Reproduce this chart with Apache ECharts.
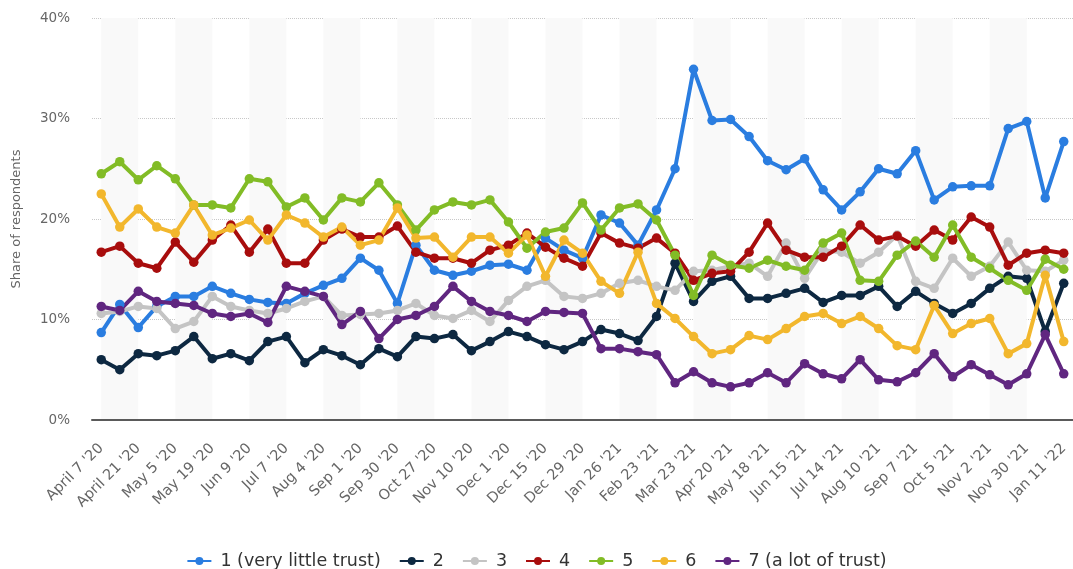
<!DOCTYPE html>
<html>
<head>
    <meta charset="utf-8">
    <title>Trust survey</title>
    <script src="https://cdn.jsdelivr.net/npm/echarts@6/dist/echarts.min.js"></script>
    <style>
        html, body {
            margin: 0;
            padding: 0;
            background: #fff;
        }
        #chart {
            width: 1073px;
            height: 569px;
        }
    </style>
</head>
<body>
<div id="chart"></div>
<script>
    var dates = ["April 7 '20", "April 14 '20", "April 21 '20", "April 28 '20", "May 5 '20", "May 12 '20",
        "May 19 '20", "May 26 '20", "Jun 9 '20", "Jun 23 '20", "Jul 7 '20", "Jul 21 '20", "Aug 4 '20",
        "Aug 18 '20", "Sep 1 '20", "Sep 15 '20", "Sep 30 '20", "Oct 13 '20", "Oct 27 '20", "Nov 3 '20",
        "Nov 10 '20", "Nov 17 '20", "Dec 1 '20", "Dec 8 '20", "Dec 15 '20", "Dec 22 '20", "Dec 29 '20",
        "Jan 12 '21", "Jan 26 '21", "Feb 9 '21", "Feb 23 '21", "Mar 9 '21", "Mar 23 '21", "Apr 6 '21",
        "Apr 20 '21", "May 4 '21", "May 18 '21", "Jun 1 '21", "Jun 15 '21", "Jun 29 '21", "Jul 14 '21",
        "Jul 27 '21", "Aug 10 '21", "Aug 24 '21", "Sep 7 '21", "Sep 21 '21", "Oct 5 '21", "Oct 19 '21",
        "Nov 2 '21", "Nov 16 '21", "Nov 30 '21", "Dec 14 '21", "Jan 11 '22"];

    var names = ['1 (very little trust)', '2', '3', '4', '5', '6', '7 (a lot of trust)'];
    var colors = ['#2a7de0', '#0d2841', '#c4c4c4', '#a80d0d', '#82bc26', '#f2b72d', '#602680'];

    var trust1 = [8.7, 11.5, 9.2, 11.3, 12.3, 12.3, 13.3, 12.6, 12.0, 11.7, 11.6, 12.6, 13.4, 14.1, 16.1, 14.9,
        11.6, 17.4, 14.9, 14.4, 14.8, 15.4, 15.5, 14.9, 18.1, 16.9, 16.1, 20.4, 19.6, 17.4, 20.9, 25.0, 34.9,
        29.8, 29.9, 28.2, 25.8, 24.9, 26.0, 22.9, 20.9, 22.7, 25.0, 24.5, 26.8, 21.9, 23.2, 23.3, 23.3, 29.0,
        29.7, 22.1, 27.7];
    var trust2 = [6.0, 5.0, 6.6, 6.4, 6.9, 8.3, 6.1, 6.6, 5.9, 7.8, 8.3, 5.7, 7.0, 6.4, 5.5, 7.1, 6.3, 8.3, 8.1,
        8.5, 6.9, 7.8, 8.8, 8.3, 7.5, 7.0, 7.8, 9.0, 8.6, 7.9, 10.3, 15.6, 11.8, 13.8, 14.3, 12.1, 12.1, 12.6,
        13.1, 11.7, 12.4, 12.4, 13.3, 11.3, 12.8, 11.6, 10.6, 11.6, 13.1, 14.3, 14.1, 8.8, 13.6];
    var trust3 = [10.6, 10.8, 11.3, 11.1, 9.1, 9.8, 12.3, 11.3, 10.9, 10.6, 11.1, 11.8, 12.3, 10.4, 10.5, 10.6,
        10.9, 11.6, 10.4, 10.1, 10.9, 9.8, 11.9, 13.3, 13.9, 12.3, 12.1, 12.6, 13.6, 13.9, 13.3, 12.9, 14.8,
        14.9, 15.3, 15.6, 14.3, 17.6, 14.1, 16.9, 16.7, 15.6, 16.7, 18.4, 13.8, 13.1, 16.1, 14.3, 15.3, 17.7,
        14.9, 14.8, 15.9];
    var trust4 = [16.7, 17.3, 15.6, 15.1, 17.7, 15.7, 17.9, 19.4, 16.7, 19.0, 15.6, 15.6, 17.9, 19.0, 18.2, 18.2,
        19.3, 16.7, 16.1, 16.1, 15.6, 16.9, 17.4, 18.6, 17.2, 16.1, 15.3, 18.6, 17.6, 17.1, 18.1, 16.6, 13.9,
        14.6, 14.8, 16.7, 19.6, 16.9, 16.2, 16.2, 17.3, 19.4, 17.9, 18.3, 17.3, 18.9, 17.9, 20.2, 19.2, 15.4,
        16.6, 16.9, 16.6];
    var trust5 = [24.5, 25.7, 23.9, 25.3, 24.0, 21.4, 21.4, 21.1, 24.0, 23.7, 21.2, 22.1, 19.9, 22.1, 21.7, 23.6,
        21.4, 18.9, 20.9, 21.7, 21.4, 21.9, 19.7, 17.1, 18.7, 19.1, 21.6, 18.9, 21.1, 21.5, 19.9, 16.4, 12.4,
        16.4, 15.4, 15.1, 15.9, 15.3, 14.9, 17.6, 18.6, 13.9, 13.8, 16.4, 17.8, 16.2, 19.4, 16.2, 15.1, 13.9,
        12.9, 16.0, 15.0];
    var trust6 = [22.5, 19.2, 21.0, 19.2, 18.6, 21.4, 18.4, 19.1, 19.9, 17.9, 20.4, 19.6, 18.2, 19.2, 17.4, 17.9,
        21.1, 18.1, 18.2, 16.2, 18.2, 18.2, 16.6, 18.4, 14.3, 17.9, 16.6, 13.8, 12.6, 16.7, 11.6, 10.1, 8.3,
        6.6, 7.0, 8.4, 8.0, 9.1, 10.3, 10.6, 9.6, 10.3, 9.1, 7.4, 7.0, 11.4, 8.6, 9.6, 10.1, 6.6, 7.6, 14.4,
        7.8];
    var trust7 = [11.3, 10.9, 12.8, 11.8, 11.6, 11.4, 10.6, 10.3, 10.6, 9.7, 13.3, 12.8, 12.3, 9.5, 10.8, 8.1,
        10.0, 10.4, 11.3, 13.3, 11.8, 10.8, 10.4, 9.8, 10.8, 10.7, 10.6, 7.1, 7.1, 6.8, 6.5, 3.7, 4.8, 3.7, 3.3,
        3.7, 4.7, 3.7, 5.6, 4.6, 4.1, 6.0, 4.0, 3.8, 4.7, 6.6, 4.3, 5.5, 4.5, 3.5, 4.6, 8.5, 4.6];

    var yTicks = [0, 10, 20, 30, 40];

    var allData = [trust1, trust2, trust3, trust4, trust5, trust6, trust7];
    var font = 'DejaVu Sans';

    var series = [];
    for (var i = 0; i < allData.length; i++) {
        series.push({
            name: names[i],
            type: 'line',
            data: allData[i],
            symbol: 'circle',
            symbolSize: 9.5,
            lineStyle: { width: 4, color: colors[i], join: 'round' },
            itemStyle: { color: colors[i] },
            emphasis: { disabled: true }
        });
    }

    var chart = echarts.init(document.getElementById('chart'));
    chart.setOption({
        animation: false,
        color: colors,
        grid: {
            left: 92,
            right: -4,
            top: 18,
            bottom: 149
        },
        legend: {
            top: 547,
            left: 'center',
            itemWidth: 24,
            itemHeight: 10,
            itemGap: 18,
            data: names,
            textStyle: { fontFamily: font, fontSize: 17.5, color: '#333', padding: [0, 0, 0, 4] }
        },
        xAxis: {
            type: 'category',
            boundaryGap: true,
            data: dates,
            axisLine: { lineStyle: { color: '#5a5a5a', width: 2 } },
            axisTick: { show: false },
            axisLabel: {
                interval: 1,
                rotate: 45,
                margin: 26,
                fontFamily: font,
                fontSize: 14.5,
                color: '#666'
            },
            splitLine: { show: false },
            splitArea: {
                show: true,
                interval: 1,
                alignWithLabel: true,
                areaStyle: { color: ['#f9f9f9', 'rgba(255,255,255,0)'] }
            }
        },
        yAxis: {
            type: 'value',
            min: yTicks[0],
            max: yTicks[yTicks.length - 1],
            interval: 10,
            name: 'Share of respondents',
            nameLocation: 'middle',
            nameGap: 69,
            nameTextStyle: { fontFamily: font, fontSize: 13, color: '#666' },
            axisLine: { show: false },
            axisTick: { show: false },
            axisLabel: {
                margin: 22,
                fontFamily: font,
                fontSize: 13.5,
                color: '#666',
                formatter: '{value}%'
            },
            splitLine: { lineStyle: { type: 'dotted', color: '#c8c8c8', width: 1 } }
        },
        series: series
    });
</script>
</body>
</html>
